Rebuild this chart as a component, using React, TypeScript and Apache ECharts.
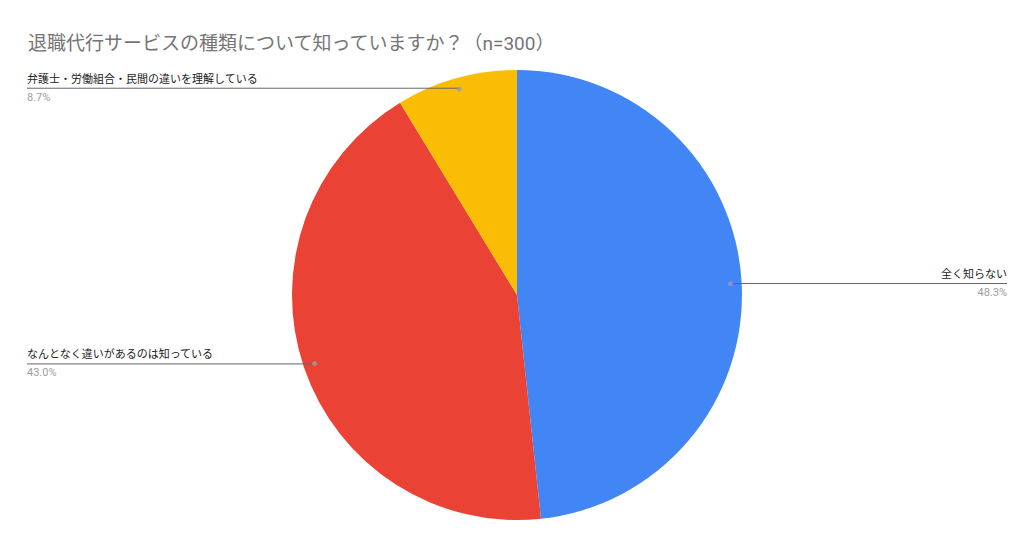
import React, { useEffect, useRef } from 'react';
import * as echarts from 'echarts';

const titleText = '退職代行サービスの種類について知っていますか？（n=300）';
const categories = ['全く知らない', 'なんとなく違いがあるのは知っている', '弁護士・労働組合・民間の違いを理解している'];
const shares = [48.3, 43.0, 8.7];
const colors = ['#4285F4', '#EA4335', '#FBBC04'];

const FONT = 'Roboto, "Noto Sans CJK JP", sans-serif';
const CENTER = [517, 295];
const RADIUS = 225;
const DOT_RATIO = 0.95;

const App: React.FC = () => {
  const chartRef = useRef<HTMLDivElement>(null);

  useEffect(() => {
    if (!chartRef.current) return;
    const chart = echarts.init(chartRef.current, undefined, { renderer: 'svg' });

    // measure label widths so the leader line runs under the text to the edge
    const ctx = document.createElement('canvas').getContext('2d')!;
    ctx.font = `11px ${FONT}`;
    const widths = categories.map((c) => ctx.measureText(c).width);

    const total = shares.reduce((a, b) => a + b, 0);
    let acc = 0;
    const mids = shares.map((v) => {
      const m = acc + v / 2;
      acc += v;
      return (m / total) * 100;
    });

    const option: echarts.EChartsOption = {
      animation: false,
      title: {
        text: titleText,
        left: 23,
        top: 29,
        textStyle: { fontSize: 19, fontWeight: 'normal', color: '#757575', fontFamily: FONT }
      },
      polar: { center: CENTER, radius: RADIUS },
      angleAxis: { type: 'value', min: 0, max: 100, startAngle: 90, clockwise: true, show: false },
      radiusAxis: { type: 'value', min: 0, max: 1, show: false },
      series: [
        {
          type: 'pie',
          center: CENTER,
          radius: RADIUS,
          startAngle: 90,
          silent: true,
          label: { show: false },
          labelLine: { show: false },
          data: categories.map((c, i) => ({ name: c, value: shares[i], itemStyle: { color: colors[i] } }))
        },
        {
          type: 'pie',
          center: CENTER,
          radius: RADIUS * DOT_RATIO,
          startAngle: 90,
          silent: true,
          z: 3,
          itemStyle: { color: 'rgba(0,0,0,0)' },
          label: {
            show: true,
            position: 'outside',
            alignTo: 'edge',
            edgeDistance: 27,
            fontFamily: FONT,
            formatter: (p: any) => `{n|${p.name}}\n{p|${shares[p.dataIndex].toFixed(1)}%}`,
            rich: {
              n: { fontSize: 11, color: '#222222', lineHeight: 18, fontFamily: FONT },
              p: { fontSize: 11, color: '#9e9e9e', lineHeight: 18, fontFamily: FONT }
            }
          },
          labelLine: {
            show: true,
            length: 1,
            length2: 10,
            lineStyle: { color: '#666666', width: 1 }
          },
          data: categories.map((c, i) => ({
            name: c,
            value: shares[i],
            label: { distanceToLabelLine: -widths[i] }
          }))
        },
        {
          type: 'scatter',
          coordinateSystem: 'polar',
          symbolSize: 5,
          silent: true,
          z: 4,
          itemStyle: { color: '#9e9e9e' },
          data: mids.map((m) => [DOT_RATIO, m])
        }
      ]
    };

    chart.setOption(option);
    return () => {
      chart.dispose();
    };
  }, []);

  return (
    <div
      ref={chartRef}
      style={{ position: 'fixed', left: 0, top: 0, width: 1034, height: 548, background: '#ffffff' }}
    />
  );
};

export default App;
